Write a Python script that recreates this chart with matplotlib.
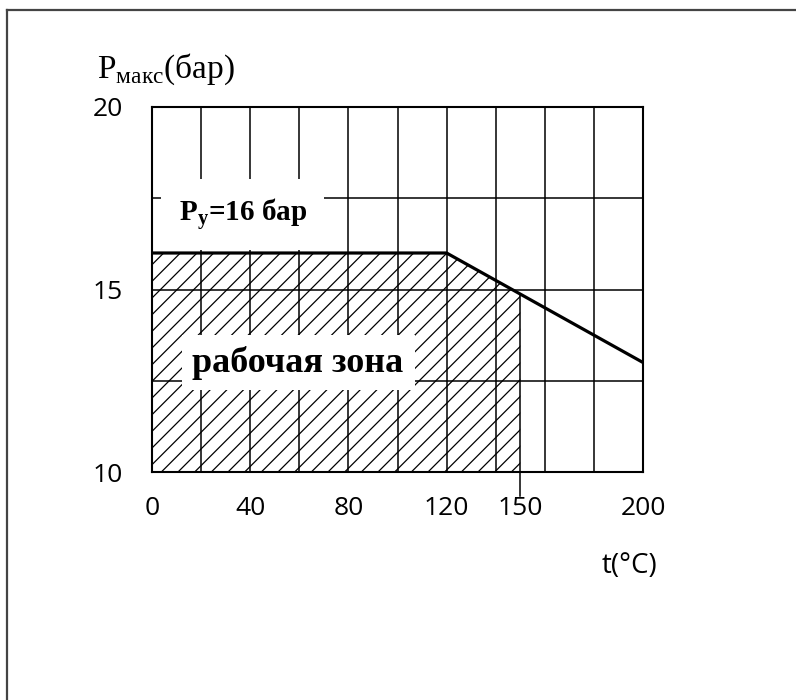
import numpy as np
import matplotlib.pyplot as plt
from matplotlib.lines import Line2D

# curve of max pressure vs temperature
t_curve = [0, 120, 200]
p_curve = [16, 16, 13]

# working zone (hatched), limited at 150 C
t_zone = [0, 120, 150]
p_zone = [16, 16, 14.88]

x_ticks = [0, 40, 80, 120, 150, 200]
y_ticks = [10, 15, 20]
x_grid = np.arange(0, 201, 20)
y_grid = [10, 12.5, 15, 17.5, 20]

serif = "Liberation Serif"
sans = "Open Sans"

plt.rcParams["hatch.linewidth"] = 0.9
plt.rcParams["mathtext.fontset"] = "custom"
plt.rcParams["mathtext.rm"] = serif

fig = plt.figure(figsize=(7.96, 7.0), dpi=100)
ax = fig.add_axes([152 / 796, 228 / 700, 491 / 796, 365 / 700])

ax.set_xlim(0, 200)
ax.set_ylim(10, 20)

# grid
for x in x_grid:
    ax.axvline(x, color="black", lw=1.1, zorder=1)
for y in y_grid:
    ax.axhline(y, color="black", lw=1.1, zorder=1)

# hatched working zone
ax.fill_between(t_zone, 10, p_zone, facecolor="none", edgecolor="black",
                hatch="//", lw=0, zorder=2)
# vertical line at 150 (from below the axis up to the curve)
ax.plot([150, 150], [9.35, p_zone[-1]], color="black", lw=1.1,
        clip_on=False, zorder=2)

# curve
ax.plot(t_curve, p_curve, color="black", lw=2.3, zorder=5)

for s in ax.spines.values():
    s.set_linewidth(1.5)

ax.set_xticks(x_ticks)
ax.set_yticks(y_ticks)
ax.tick_params(length=0, labelsize=19)
ax.tick_params(axis="x", pad=17)
ax.tick_params(axis="y", pad=21)
for lab in ax.get_xticklabels() + ax.get_yticklabels():
    lab.set_fontfamily(sans)

# text labels with white boxes
ax.text(37, 17.05, r"P$_\mathregular{у}$=16 бар", family=serif,
        fontweight="bold", fontsize=21, ha="center", va="center",
        bbox=dict(boxstyle="square,pad=0.6", fc="white", ec="none"),
        zorder=4)
ax.text(59.5, 13.0, "рабочая зона", family=serif, fontweight="bold",
        fontsize=26, ha="center", va="center",
        bbox=dict(boxstyle="square,pad=0.3", fc="white", ec="none"),
        zorder=4)

# axis labels
fig.text(97 / 796, (700 - 78) / 700, r"P$_\mathregular{макс}$(бар)",
         family=serif, fontsize=24, ha="left", va="baseline")
fig.text(629 / 796, (700 - 566) / 700, "t(°C)", family=sans, fontsize=20,
         ha="center", va="center")

# outer frame (left and top edges)
fig.add_artist(Line2D([7 / 796, 7 / 796], [0, 1 - 10 / 700],
                      transform=fig.transFigure, color="#444444", lw=1.6))
fig.add_artist(Line2D([7 / 796, 1], [1 - 10 / 700, 1 - 10 / 700],
                      transform=fig.transFigure, color="#444444", lw=1.6))

fig.savefig("out.png", dpi=100)
